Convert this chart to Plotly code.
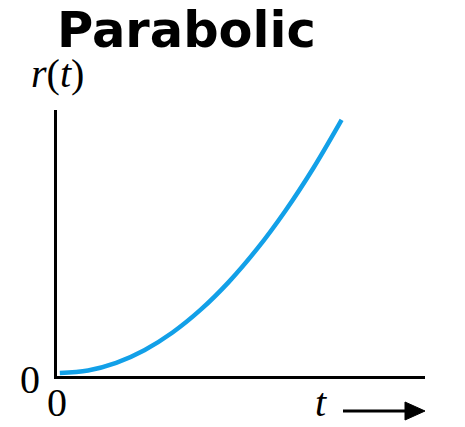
import plotly.graph_objects as go

# Parabolic response r(t) sampled at integer times
t_vals = [0, 1, 2, 3, 4, 5, 6, 7, 8, 9, 10]
r_vals = [0, 1, 4, 9, 16, 25, 36, 49, 64, 81, 100]

title_text = "<b>Parabolic</b>"
y_label = "<i>r</i>(<i>t</i>)"
x_label = "<i>t</i>"
origin_label = "0"

fig = go.Figure()
fig.add_trace(go.Scatter(
    x=t_vals, y=r_vals, mode="lines",
    line=dict(color="#12a0e8", width=4.5, shape="spline", smoothing=1.0),
    hoverinfo="skip", showlegend=False,
))

W, H = 465, 427
L, R, T, B = 57, 40, 110, 51
pw, ph = W - L - R, H - T - B


def px(x):
    return (x - L) / pw


def py(y):
    return (H - B - y) / ph


serif = "Liberation Serif"

annotations = [
    dict(text=title_text, x=px(55), y=py(30), xanchor="left", yanchor="middle",
         font=dict(family="DejaVu Sans", size=49.5, color="black"), showarrow=False),
    dict(text=y_label, x=px(57), y=py(74), xanchor="center", yanchor="middle",
         font=dict(family=serif, size=40, color="black"), showarrow=False),
    dict(text=origin_label, x=px(30), y=py(379), xanchor="center", yanchor="middle",
         font=dict(family=serif, size=40, color="black"), showarrow=False),
    dict(text=origin_label, x=px(57), y=py(427), xanchor="center", yanchor="bottom",
         font=dict(family=serif, size=40, color="black"), showarrow=False),
    dict(text=x_label, x=px(321), y=py(427), xanchor="center", yanchor="bottom",
         font=dict(family=serif, size=40, color="black"), showarrow=False),
]
for a in annotations:
    a.update(xref="paper", yref="paper")

shapes = [
    dict(type="line", xref="paper", yref="paper",
         x0=px(343), x1=px(408), y0=py(411), y1=py(411),
         line=dict(color="black", width=3)),
    dict(type="path", xref="paper", yref="paper",
         path=f"M {px(405)} {py(402)} L {px(425)} {py(411)} L {px(405)} {py(420)} Z",
         fillcolor="black", line=dict(color="black", width=1)),
]

fig.update_layout(
    width=W, height=H,
    margin=dict(l=L, r=R, t=T, b=B, pad=0),
    paper_bgcolor="white", plot_bgcolor="white",
    xaxis=dict(range=[-0.1, 12.96], showline=True, linecolor="black", linewidth=3,
               showgrid=False, zeroline=False, showticklabels=False, ticks=""),
    yaxis=dict(range=[-1.2, 103.9], showline=True, linecolor="black", linewidth=3,
               showgrid=False, zeroline=False, showticklabels=False, ticks=""),
    annotations=annotations,
    shapes=shapes,
)

fig.write_html("out.html")
